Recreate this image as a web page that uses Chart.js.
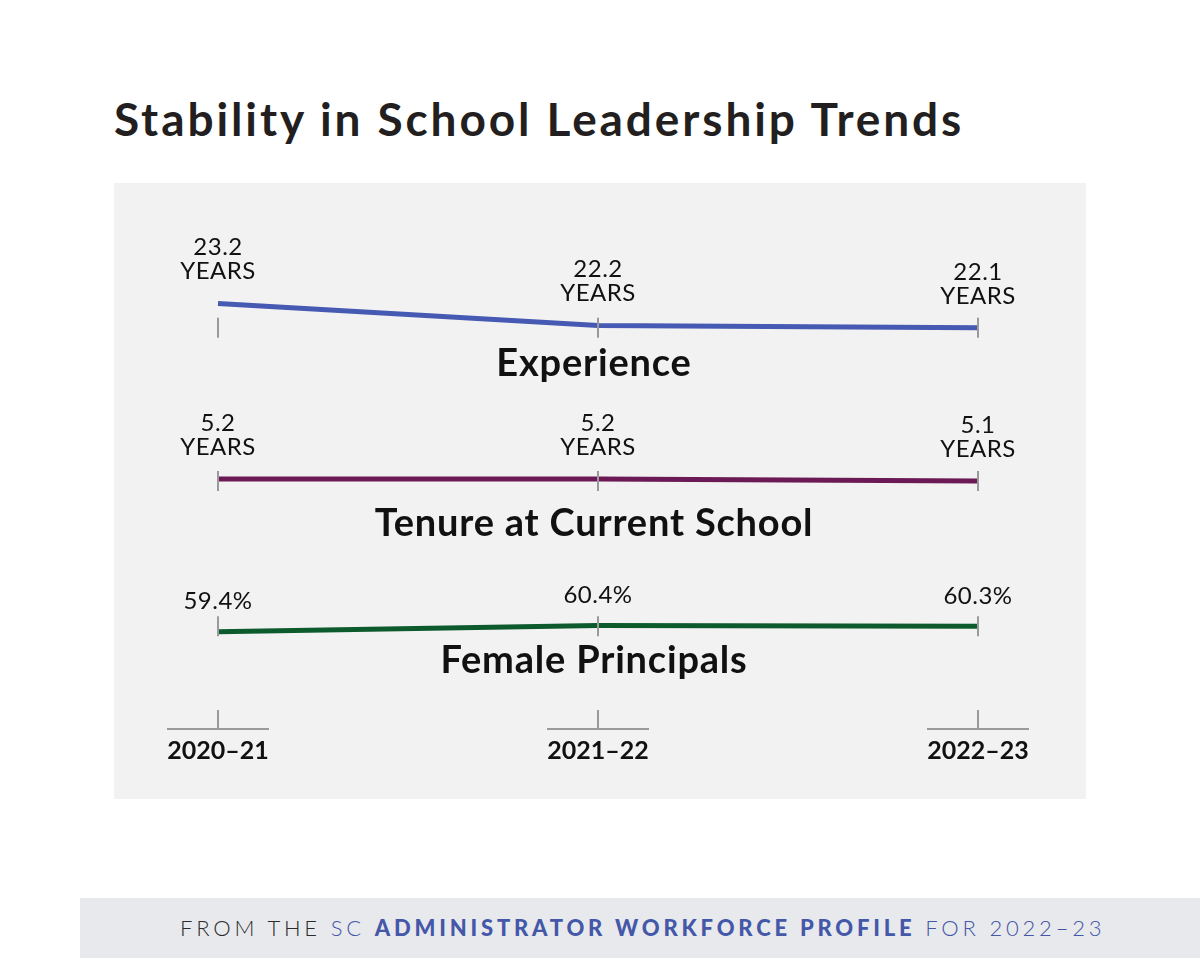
<!DOCTYPE html>
<html>
<head>
<meta charset="utf-8">
<script src="https://cdn.jsdelivr.net/npm/chart.js@4.4.1/dist/chart.umd.min.js"></script>
<style>
  html, body { margin: 0; padding: 0; background: #fff; }
  body { width: 1200px; height: 958px; position: relative; overflow: hidden; font-family: Lato, "Open Sans", sans-serif; }
  #title { position: absolute; left: 114px; top: 93px; font-size: 46px; line-height: 52px; font-weight: 700; color: #231f20; letter-spacing: 2.9px; white-space: nowrap; }
  #panel { position: absolute; left: 114px; top: 183px; width: 972px; height: 616px; background: #f2f2f2; }
  #footer { position: absolute; left: 80px; top: 898px; width: 1120px; height: 60px; background: #e8e9ec; }
  #footer span.t { position: absolute; left: 100px; top: 17px; font-size: 22px; line-height: 26px; letter-spacing: 3.8px; color: #4457a8; font-weight: 300; white-space: nowrap; }
  #footer .dark { color: #2b2b2b; }
  #footer b { font-weight: 900; }
</style>
</head>
<body>
<div id="title">Stability in School Leadership Trends</div>
<div id="panel"><canvas id="trend-chart"></canvas></div>
<div id="footer"><span class="t"><span class="dark">FROM THE</span> SC <b>ADMINISTRATOR WORKFORCE PROFILE</b> FOR 2022–23</span></div>
<script>
const years = ["2020–21", "2021–22", "2022–23"];
const experienceYears = [23.2, 22.2, 22.1];
const tenureYears = [5.2, 5.2, 5.1];
const femalePercent = [59.4, 60.4, 60.3];

const ctx = document.getElementById("trend-chart");

// draws value labels, row ticks, row titles and the x axis marks
const rowDecor = {
  id: "rowDecor",
  afterDatasetsDraw(chart) {
    const c = chart.ctx;
    const area = chart.chartArea;
    const xScale = chart.scales.x;
    c.save();
    chart.data.datasets.forEach((ds, i) => {
      const meta = chart.getDatasetMeta(i);
      const pts = meta.data;
      const anchor = pts[pts.length - 1].y; // row band follows last value
      // ticks at each year
      c.strokeStyle = "#9a9a9a";
      c.lineWidth = 2;
      pts.forEach((p) => {
        c.beginPath();
        c.moveTo(p.x, anchor - 10);
        c.lineTo(p.x, anchor + 10);
        c.stroke();
      });
      // value labels
      c.fillStyle = "#111";
      c.font = "400 24px Lato, sans-serif";
      c.letterSpacing = "0.5px";
      c.textAlign = "center";
      c.textBaseline = "middle";
      pts.forEach((p, j) => {
        const v = ds.data[j];
        if (ds.unit === "%") {
          c.fillText(v.toFixed(1) + "%", p.x, p.y - 30);
        } else {
          c.fillText(v.toFixed(1), p.x, p.y - 56);
          c.fillText("YEARS", p.x, p.y - 32);
        }
      });
      // row title
      c.font = "700 38px Lato, sans-serif";
      c.letterSpacing = "0.8px";
      c.textBaseline = "alphabetic";
      c.fillText(ds.label, (area.left + area.right) / 2 - 4, anchor + ds.titleGap);
    });
    // x axis marks
    c.strokeStyle = "#9a9a9a";
    c.lineWidth = 2;
    years.forEach((y, i) => {
      const x = xScale.getPixelForValue(i);
      c.beginPath();
      c.moveTo(x, area.bottom - 18);
      c.lineTo(x, area.bottom);
      c.moveTo(x - 51, area.bottom + 1);
      c.lineTo(x + 51, area.bottom + 1);
      c.stroke();
    });
    c.restore();
  },
};

new Chart(ctx, {
  type: "line",
  data: {
    labels: years,
    datasets: [
      {
        label: "Experience",
        data: experienceYears,
        unit: "years",
        titleGap: 48,
        yAxisID: "yExp",
        borderColor: "#4659b3",
        borderWidth: 5,
        pointRadius: 0,
        tension: 0,
      },
      {
        label: "Tenure at Current School",
        data: tenureYears,
        unit: "years",
        titleGap: 55,
        yAxisID: "yTen",
        borderColor: "#6b1a55",
        borderWidth: 5,
        pointRadius: 0,
        tension: 0,
      },
      {
        label: "Female Principals",
        data: femalePercent,
        unit: "%",
        titleGap: 47,
        yAxisID: "yFem",
        borderColor: "#0d5a2d",
        borderWidth: 5,
        pointRadius: 0,
        tension: 0,
      },
    ],
  },
  options: {
    responsive: true,
    maintainAspectRatio: false,
    animation: false,
    layout: { padding: { left: 104, right: 108, top: 0, bottom: 25 } },
    scales: {
      x: {
        offset: false,
        grid: { display: false, drawTicks: false },
        border: { display: false },
        ticks: {
          padding: 8,
          color: "#111",
          font: { family: "Lato", size: 25, weight: "bold" },
        },
      },
      yExp: { display: false, min: 3.97, max: 28.66 },
      yTen: { display: false, min: -7.2, max: 19.95 },
      yFem: { display: false, min: 43.4, max: 133.9 },
    },
    plugins: {
      legend: { display: false },
      tooltip: { enabled: false },
    },
  },
  plugins: [rowDecor],
});
</script>
</body>
</html>
